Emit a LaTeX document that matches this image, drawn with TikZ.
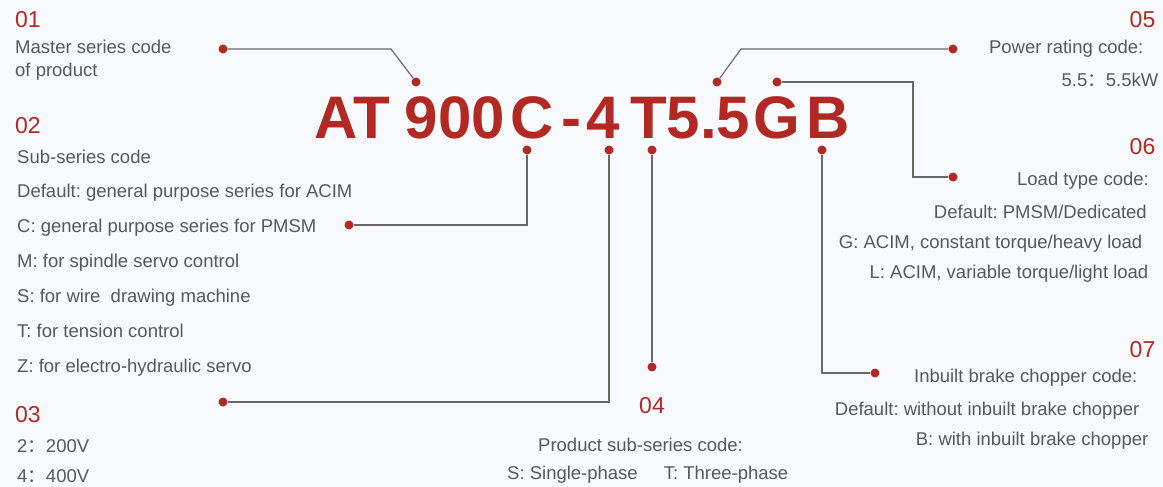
\documentclass[tikz,border=0pt]{standalone}
\usepackage{fontspec}
\setmainfont{Liberation Sans}
\newfontfamily\cjk{Noto Sans CJK SC}
\frenchspacing
\definecolor{codered}{RGB}{178,41,36}
\definecolor{txtgray}{RGB}{88,88,88}
\definecolor{leadgray}{RGB}{105,105,105}
\definecolor{bgcol}{RGB}{248,249,253}
\newcommand{\fwcolon}{{\cjk ：}}

\begin{document}
\begin{tikzpicture}[
  x=1pt, y=-1pt,
  code/.style={text=codered, font=\fontsize{60}{60}\selectfont\bfseries, inner sep=0pt, anchor=base},
  num/.style={text=codered, font=\fontsize{23}{23}\selectfont, inner sep=0pt},
  txt/.style={text=txtgray, font=\fontsize{18.5}{22}\selectfont, inner sep=0pt},
  dot/.style={circle, inner sep=0pt, minimum size=9pt},
  lead/.style={draw=leadgray, line width=1.2pt}
]
\useasboundingbox[fill=bgcol] (0,0) rectangle (1163,487);

% model code
\node[code] (cAT) at (352.5,139) {AT};
\node[code] (c900) at (455,139) {900};
\node[code] (cC) at (532,139) {C};
\node[code] (cdash) at (571.5,139) {-};
\node[code] (c4) at (603,139) {4};
\node[code] (cT) at (649,139) {T};
\node[code] (cpow) at (708.5,139) {5.5};
\node[code] (cG) at (777,139) {G};
\node[code] (cB) at (828.5,139) {B};

% left column
\node[num, anchor=base west] (n01) at (15,28) {01};
\node[txt, anchor=base west] (t01a) at (15,53.5) {Master series code};
\node[txt, anchor=base west] (t01b) at (15,76.5) {of product};
\node[num, anchor=base west] (n02) at (15,133) {02};
\node[txt, anchor=base west] (t02a) at (17,163) {Sub-series code};
\node[txt, anchor=base west] (t02b) at (17,197) {Default: general purpose series for ACIM};
\node[txt, anchor=base west] (t02c) at (17,232) {C: general purpose series for PMSM};
\node[txt, anchor=base west] (t02d) at (17,267) {M: for spindle servo control};
\node[txt, anchor=base west] (t02e) at (17,302) {S: for wire~ drawing machine};
\node[txt, anchor=base west] (t02f) at (17,337) {T: for tension control};
\node[txt, anchor=base west] (t02g) at (17,372) {Z: for electro-hydraulic servo};
\node[num, anchor=base west] (n03) at (15,422) {03};
\node[txt, anchor=base west] (t03a) at (17,452) {2\fwcolon 200V};
\node[txt, anchor=base west] (t03b) at (17,482) {4\fwcolon 400V};

% bottom middle
\node[num, anchor=base] (n04) at (652,413) {04};
\node[txt, anchor=base] (t04a) at (640.5,451) {Product sub-series code:};
\node[txt, anchor=base west] (t04b) at (507,479) {S: Single-phase\hspace{26pt}T: Three-phase};

% right column
\node[num, anchor=base east] (n05) at (1155.5,28) {05};
\node[txt, anchor=base east] (t05a) at (1143.5,54) {Power rating code:};
\node[txt, anchor=base east] (t05b) at (1158.5,87) {5.5\fwcolon 5.5kW};
\node[num, anchor=base east] (n06) at (1155.5,154) {06};
\node[txt, anchor=base east] (t06a) at (1149,185) {Load type code:};
\node[txt, anchor=base east] (t06b) at (1147,218) {Default: PMSM/Dedicated};
\node[txt, anchor=base east] (t06c) at (1142.5,248) {G: ACIM, constant torque/heavy load};
\node[txt, anchor=base east] (t06d) at (1148.5,278) {L: ACIM, variable torque/light load};
\node[num, anchor=base east] (n07) at (1155.5,357) {07};
\node[txt, anchor=base east] (t07a) at (1137.5,382) {Inbuilt brake chopper code:};
\node[txt, anchor=base east] (t07b) at (1139.5,415) {Default: without inbuilt brake chopper};
\node[txt, anchor=base east] (t07c) at (1148.5,445) {B: with inbuilt brake chopper};

% dots on the code
\node[dot] (d900) at (416,82) {};
\node[dot] (dpow) at (717,82) {};
\node[dot] (dG) at (777,82) {};
\node[dot] (dC) at (527,150) {};
\node[dot] (d4) at (609,150) {};
\node[dot] (dT) at (652,150) {};
\node[dot] (dB) at (822,150) {};

% dots at the notes
\node[dot] (p01) at (223,49) {};
\node[dot] (p02) at (349,225) {};
\node[dot] (p03) at (223,402) {};
\node[dot] (p04) at (652,367) {};
\node[dot] (p05) at (953,49) {};
\node[dot] (p06) at (953,177) {};
\node[dot] (p07) at (875,373) {};

% leaders
\draw[lead] (p01) -- ([xshift=-25pt]d900.center |- p01.center) -- (d900);
\draw[lead] (p05) -- ([xshift=24pt]dpow.center |- p05.center) -- (dpow);
\draw[lead] (dG) -- ([xshift=-40pt]p06.center |- dG.center) -- ([xshift=-40pt]p06.center) -- (p06);
\draw[lead] (dC) -- (dC |- p02) -- (p02);
\draw[lead] (d4) -- (d4 |- p03) -- (p03);
\draw[lead] (dT) -- (p04);
\draw[lead] (dB) -- (dB |- p07) -- (p07);

% fill the dots
\foreach \d in {d900,dpow,dG,dC,d4,dT,dB,p01,p02,p03,p04,p05,p06,p07}
  \fill[codered] (\d) circle (4.5pt);
\end{tikzpicture}
\end{document}
